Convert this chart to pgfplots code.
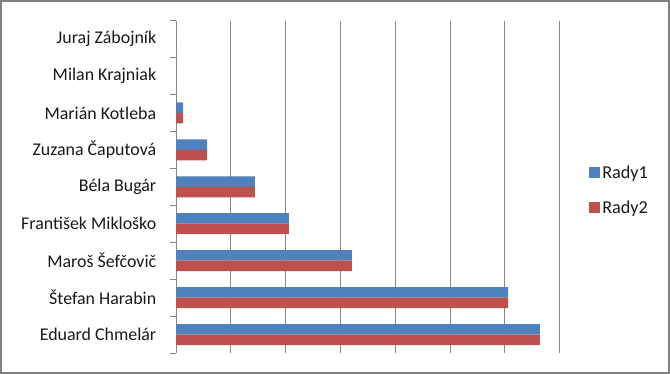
\documentclass[border=0pt]{standalone}
\usepackage{fontspec}
\setmainfont{Carlito}
\usepackage{pgfplots}
\pgfplotsset{compat=1.18}
\definecolor{blueS}{HTML}{4F81BD}
\definecolor{redS}{HTML}{C0504D}
\definecolor{gridc}{HTML}{868686}
\begin{document}
\begin{tikzpicture}
\fill[white] (0bp,0bp) rectangle (670bp,374bp);
\draw[draw=black!50, line width=2bp] (1bp,1bp) rectangle (669bp,373bp);
\useasboundingbox (0bp,0bp) rectangle (670bp,374bp);
\begin{axis}[
  at={(176bp,21bp)}, anchor=south west,
  scale only axis, width=383.6bp, height=332.5bp,
  xbar, bar width=10.5bp,
  xmin=0, xmax=7, ymin=-0.5, ymax=8.5,
  axis lines*=left,
  x axis line style={draw=none},
  y axis line style={draw=gridc, line width=0.8bp},
  xtick={0,1,...,7}, xticklabels={}, 
  xmajorgrids, major grid style={draw=gridc, line width=0.8bp},
  major x tick style={draw=none},
  ytick={0,1,...,8},
  yticklabels={Eduard Chmelár, Štefan Harabin, Maroš Šefčovič, František Mikloško\hspace{4bp}, Béla Bugár, Zuzana Čaputová, Marián Kotleba, Milan Krajniak, Juraj Zábojník},
  major y tick style={draw=none},
  minor ytick={-0.5,0.5,...,8.5},
  minor y tick style={draw=gridc, line width=0.8bp},
  minor tick length=6bp,
  tick align=outside,
  yticklabel style={font=\fontsize{17.9bp}{21bp}\selectfont, color=black!90, xshift=-12bp},
  legend style={draw=none, fill=none, at={(1.077,0.49)}, anchor=west, font=\fontsize{18.2bp}{21bp}\selectfont, row sep=17bp, inner sep=0pt, nodes={inner sep=2bp, color=black!90}},
  legend cell align=left,
  legend image code/.code={\fill[#1] (0bp,-5.5bp) rectangle (11bp,5.5bp);},
]
\addplot[fill=blueS, draw=none, bar shift=5.25bp] coordinates {
 (6.64,0) (6.06,1) (3.21,2) (2.06,3) (1.44,4) (0.57,5) (0.13,6) (0,7) (0,8)};
\addlegendentry{Rady1}
\addplot[fill=redS, draw=none, bar shift=-5.25bp] coordinates {
 (6.64,0) (6.06,1) (3.21,2) (2.06,3) (1.44,4) (0.57,5) (0.13,6) (0,7) (0,8)};
\addlegendentry{Rady2}
\end{axis}
\end{tikzpicture}
\end{document}
